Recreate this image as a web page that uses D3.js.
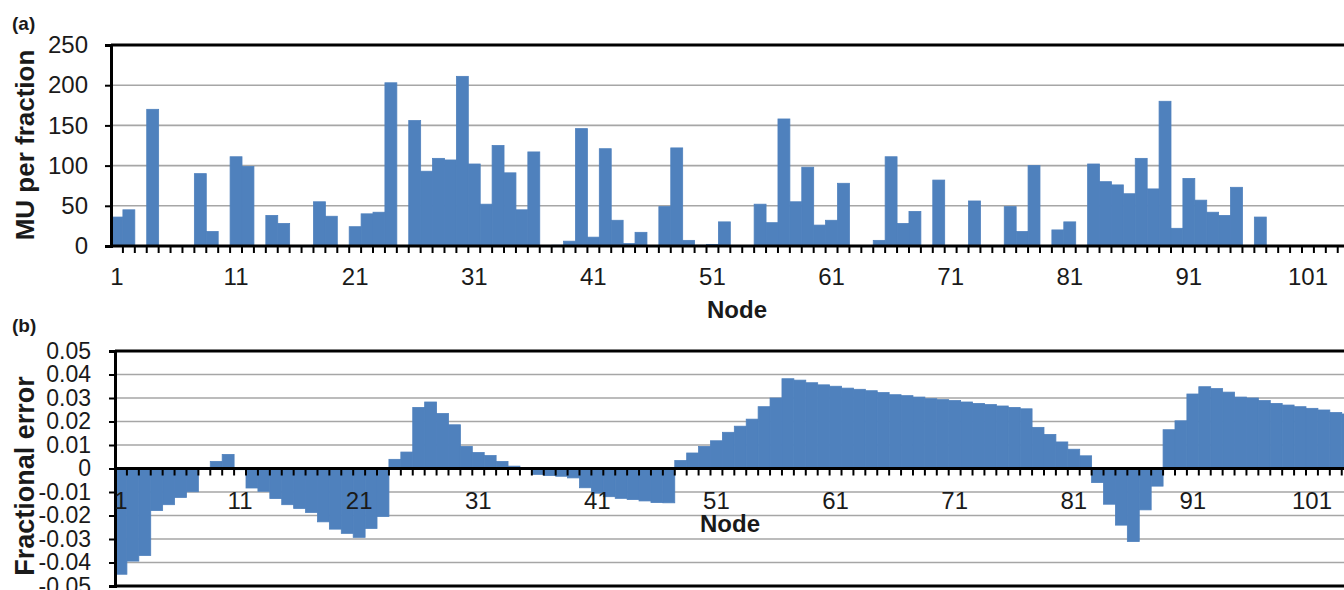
<!DOCTYPE html>
<html>
<head>
<meta charset="utf-8">
<script src="https://cdn.jsdelivr.net/npm/d3@7"></script>
<style>
  body { margin: 0; background: #fff; }
  text { font-family: Arial, "Liberation Sans", sans-serif; fill: #1a1a1a; }
</style>
</head>
<body>
<script>
// node ids along the x axis (the chart runs past the right edge)
var nodes = d3.range(1, 105);
var tickLabels = [1, 11, 21, 31, 41, 51, 61, 71, 81, 91, 101];

// (a) MU per fraction
var mu = [36, 45, 0, 170, 0, 0, 0, 90, 18, 0,
          111, 99, 0, 38, 28, 0, 0, 55, 37, 0,
          24, 40, 42, 203, 0, 156, 93, 109, 107, 211,
          102, 52, 125, 91, 45, 117, 0, 1, 6, 146,
          11, 121, 32, 3, 17, 0, 49, 122, 7, 1,
          2, 30, 0, 0, 52, 29, 158, 55, 98, 26,
          32, 78, 0, 0, 7, 111, 28, 43, 0, 82,
          0, 0, 56, 0, 0, 49, 18, 100, 0, 20,
          30, 0, 102, 80, 76, 65, 109, 71, 180, 22,
          84, 57, 42, 38, 73, 0, 36, 0, 0, 0,
          0, 0, 0, 0];

// (b) fractional error
var err = [-0.045, -0.0394, -0.037, -0.0179, -0.0154, -0.0123, -0.0099, 0, 0.003, 0.006,
           -0.0005, -0.0083, -0.0097, -0.0128, -0.0154, -0.017, -0.0187, -0.0227, -0.0258, -0.0276,
           -0.0293, -0.0255, -0.0204, 0.0039, 0.007, 0.026, 0.0283, 0.0234, 0.0186, 0.0094,
           0.0068, 0.0055, 0.003, 0.001, 0.0002, -0.0025, -0.003, -0.0033, -0.004, -0.0082,
           -0.0105, -0.012, -0.0127, -0.0132, -0.0138, -0.0145, -0.0146, 0.0034, 0.0066, 0.0094,
           0.0118, 0.0154, 0.018, 0.021, 0.0263, 0.030, 0.0382, 0.0376, 0.0365, 0.0356,
           0.035, 0.0342, 0.0337, 0.0331, 0.0323, 0.0314, 0.031, 0.0304, 0.0297, 0.0293,
           0.0289, 0.0283, 0.0277, 0.0272, 0.0266, 0.026, 0.0254, 0.0175, 0.0145, 0.0113,
           0.0082, 0.0054, -0.006, -0.0152, -0.0241, -0.0311, -0.0176, -0.0075, 0.0165, 0.0203,
           0.0317, 0.0348, 0.034, 0.0325, 0.0304, 0.030, 0.0289, 0.0277, 0.027, 0.0263,
           0.0256, 0.0249, 0.0238, 0.0232];

var muTicks = [0, 50, 100, 150, 200, 250];
var errTicks = [-0.05, -0.04, -0.03, -0.02, -0.01, 0, 0.01, 0.02, 0.03, 0.04, 0.05];

const barColor = "#4f81bd";
const step = 11.91;

var svg = d3.select("body").append("svg")
    .attr("width", 1344).attr("height", 590);

function panel(opts) {
  const g = svg.append("g")
      .attr("transform", `translate(${opts.left},${opts.top})`);
  const innerW = nodes.length * step;
  const innerH = opts.height;

  const x = d3.scaleBand().domain(nodes).range([0, innerW]).padding(0);
  const y = d3.scaleLinear().domain(opts.domain).range([innerH, 0]);

  // grid lines
  g.selectAll("line.grid")
    .data(opts.ticks.filter(t => t !== 0 && t !== opts.domain[0] && t !== opts.domain[1]))
    .join("line")
      .attr("class", "grid")
      .attr("x1", 0).attr("x2", innerW)
      .attr("y1", d => y(d)).attr("y2", d => y(d))
      .attr("stroke", "#a6a6a6").attr("stroke-width", 1.6);

  // bars (thin stroke in fill colour so neighbours merge without seams)
  g.selectAll("rect.bar")
    .data(nodes.map((n, i) => ({ n: n, v: opts.values[i] })).filter(d => d.v !== 0))
    .join("rect")
      .attr("class", "bar")
      .attr("x", d => x(d.n))
      .attr("width", x.bandwidth())
      .attr("y", d => y(Math.max(0, d.v)))
      .attr("height", d => Math.abs(y(d.v) - y(0)))
      .attr("fill", barColor)
      .attr("stroke", barColor)
      .attr("stroke-width", 0.8);

  // frame: top border + bottom border (if any)
  g.append("line")
      .attr("x1", 0).attr("x2", innerW)
      .attr("y1", y(opts.domain[1])).attr("y2", y(opts.domain[1]))
      .attr("stroke", "#000").attr("stroke-width", 3);
  if (opts.domain[0] < 0) {
    g.append("line")
        .attr("x1", 0).attr("x2", innerW)
        .attr("y1", y(opts.domain[0])).attr("y2", y(opts.domain[0]))
        .attr("stroke", "#000").attr("stroke-width", 3);
  }

  // left axis
  const yAxis = d3.axisLeft(y)
      .tickValues(opts.ticks)
      .tickSize(6)
      .tickPadding(opts.yPad)
      .tickFormat(opts.fmt);
  const yAxisG = g.append("g").call(yAxis);
  yAxisG.select(".domain").attr("stroke", "#000").attr("stroke-width", 3);
  yAxisG.selectAll(".tick line").attr("stroke", "#000").attr("stroke-width", 2);
  yAxisG.selectAll("text")
      .style("font-size", opts.yFont + "px")
      .attr("fill", "#1a1a1a");

  // zero axis with a tick at every category boundary
  const z = y(0);
  g.append("line")
      .attr("x1", 0).attr("x2", innerW)
      .attr("y1", z).attr("y2", z)
      .attr("stroke", "#000").attr("stroke-width", 3);
  g.selectAll("line.xtick")
    .data(nodes)
    .join("line")
      .attr("class", "xtick")
      .attr("x1", d => x(d) + x.bandwidth()).attr("x2", d => x(d) + x.bandwidth())
      .attr("y1", z).attr("y2", z + 7)
      .attr("stroke", "#000").attr("stroke-width", 2);

  const xAxis = d3.axisBottom(x)
      .tickValues(tickLabels)
      .tickSize(0)
      .tickPadding(opts.xPad);
  const xAxisG = g.append("g")
      .attr("transform", `translate(0,${z})`)
      .call(xAxis);
  xAxisG.select(".domain").remove();
  xAxisG.selectAll("text")
      .style("font-size", "24px")
      .attr("fill", "#1a1a1a");

  // axis titles
  g.append("text")
      .attr("x", opts.nodeX - opts.left)
      .attr("y", opts.nodeY - opts.top)
      .attr("text-anchor", "middle")
      .style("font-size", "24px").style("font-weight", "bold")
      .text("Node");

  svg.append("text")
      .attr("transform", `translate(${opts.titleX},${opts.titleY}) rotate(-90)`)
      .attr("text-anchor", "middle")
      .style("font-size", opts.titleFont + "px").style("font-weight", "bold")
      .text(opts.title);

  svg.append("text")
      .attr("x", 12).attr("y", opts.letterY)
      .style("font-size", "19px").style("font-weight", "bold")
      .text(opts.letter);
}

panel({
  left: 111, top: 45, height: 201,
  domain: [0, 250], ticks: muTicks, values: mu,
  fmt: d => d, yPad: 17, yFont: 24, xPad: 22,
  nodeX: 737, nodeY: 318,
  title: "MU per fraction", titleX: 34, titleY: 145, titleFont: 26,
  letter: "(a)", letterY: 30
});

panel({
  left: 115, top: 351, height: 235,
  domain: [-0.05, 0.05], ticks: errTicks, values: err,
  fmt: d => d === 0 ? "0" : d.toFixed(2), yPad: 18, yFont: 23, xPad: 23,
  nodeX: 730, nodeY: 532,
  title: "Fractional error", titleX: 34, titleY: 476, titleFont: 27,
  letter: "(b)", letterY: 332
});
</script>
</body>
</html>
